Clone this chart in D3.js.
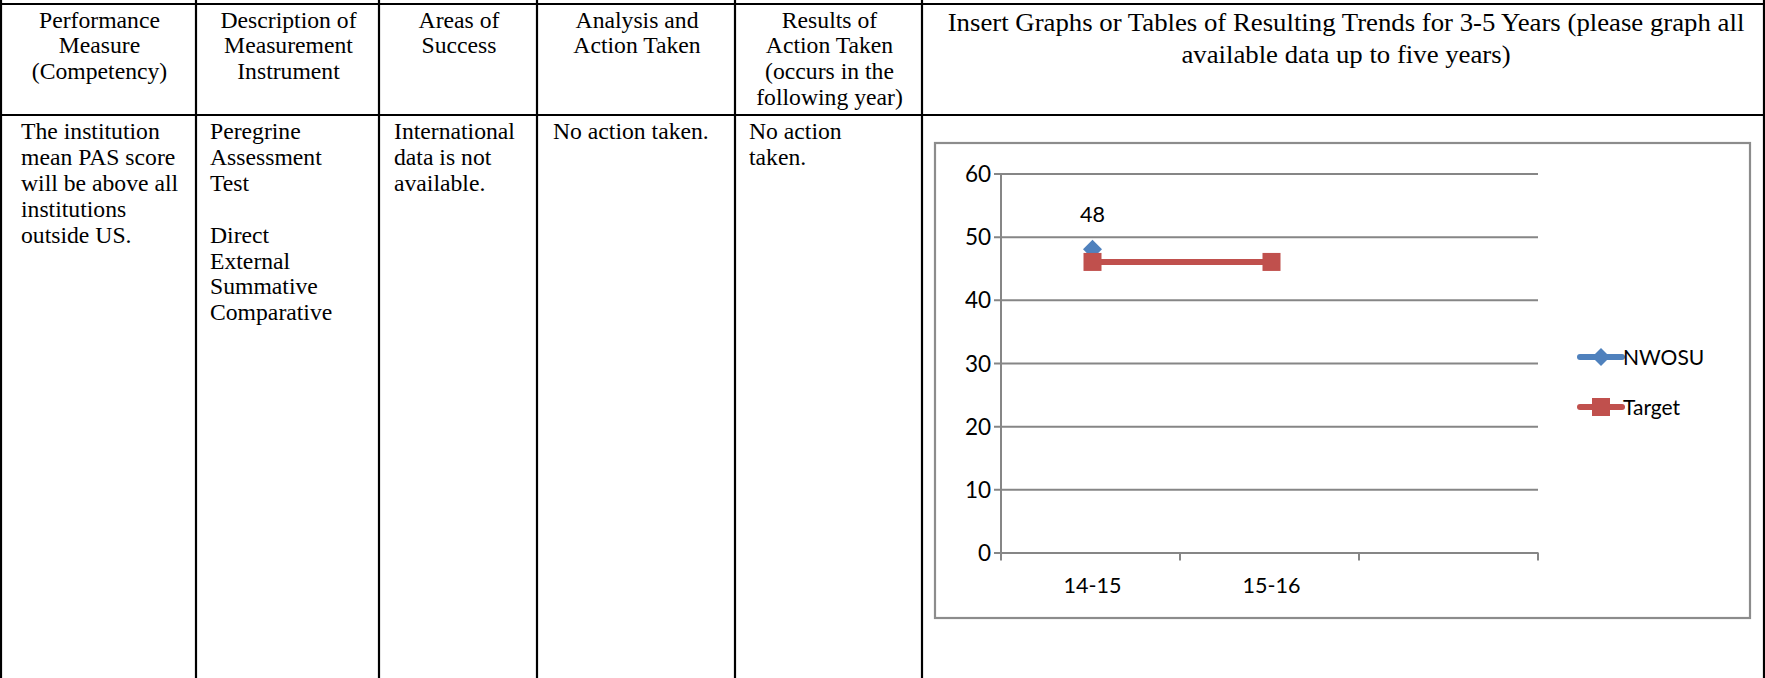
<!DOCTYPE html>
<html>
<head>
<meta charset="utf-8">
<script src="https://cdn.jsdelivr.net/npm/d3@7"></script>
<style>
  html, body { margin: 0; padding: 0; background: #fff; overflow: hidden; }
  svg { display: block; }
</style>
</head>
<body>
<svg id="page" width="1765" height="678"></svg>
<script>
// ---- Data ----
const categories = ["14-15", "15-16", ""];
const nwosuValues = [48, null, null];
const targetValues = [46, 46, null];
const yTickValues = [0, 10, 20, 30, 40, 50, 60];
const seriesNames = ["NWOSU", "Target"];

// Table content
const headerCells = [
  ["Performance", "Measure", "(Competency)"],
  ["Description of", "Measurement", "Instrument"],
  ["Areas of", "Success"],
  ["Analysis and", "Action Taken"],
  ["Results of", "Action Taken", "(occurs in the", "following year)"]
];
const graphHeader = ["Insert Graphs or Tables of Resulting Trends for 3-5 Years (please graph all", "available data up to five years)"];
const bodyCells = [
  ["The institution", "mean PAS score", "will be above all", "institutions", "outside US."],
  ["Peregrine", "Assessment", "Test", "", "Direct", "External", "Summative", "Comparative"],
  ["International", "data is not", "available."],
  ["No action taken."],
  ["No action", "taken."]
];

// ---- Layout ----
const colEdges = [1, 196, 379, 537, 735, 922, 1764];
const rowTop = 4, rowMid = 115, pageH = 678;
const serifFont = "'Liberation Serif', 'Times New Roman', serif";
const stretch = 1.03;

const svg = d3.select("#page");

// table rules
const rules = svg.append("g").attr("stroke", "#000").attr("stroke-width", 2.2);
rules.append("line").attr("x1", 0).attr("x2", 1765).attr("y1", rowTop).attr("y2", rowTop);
rules.append("line").attr("x1", 0).attr("x2", 1765).attr("y1", rowMid).attr("y2", rowMid);
colEdges.forEach(x => {
  rules.append("line").attr("x1", x).attr("x2", x).attr("y1", 0).attr("y2", pageH);
});

// text helper: slightly widened serif lines
function textLines(x, y0, lines, anchor, size, step) {
  lines.forEach((t, i) => {
    if (!t) return;
    svg.append("text")
      .attr("transform", `translate(${x},${y0 + i * step}) scale(${stretch},1)`)
      .attr("text-anchor", anchor)
      .attr("font-family", serifFont)
      .attr("font-size", size)
      .attr("fill", "#000")
      .text(t);
  });
}

headerCells.forEach((lines, i) => {
  const cx = (colEdges[i] + colEdges[i + 1]) / 2;
  textLines(cx + 1, 27.5, lines, "middle", 23, 25.9);
});
textLines((colEdges[5] + colEdges[6]) / 2 + 3, 30.5, graphHeader, "middle", 26, 32.6);

const bodyPad = [20, 14, 15, 16, 14];
bodyCells.forEach((lines, i) => {
  textLines(colEdges[i] + bodyPad[i], 139, lines, "start", 23, 25.9);
});

// ---- Chart ----
const frame = { x0: 935, y0: 143, x1: 1750, y1: 618 };
svg.append("rect")
  .attr("x", frame.x0).attr("y", frame.y0)
  .attr("width", frame.x1 - frame.x0).attr("height", frame.y1 - frame.y0)
  .attr("fill", "#fff").attr("stroke", "#8c8c8c").attr("stroke-width", 2.2);

const plot = { left: 1001, right: 1538, top: 173.5, bottom: 552.5 };
const x = d3.scaleBand().domain(categories.map((c, i) => i)).range([plot.left, plot.right]).padding(0);
const y = d3.scaleLinear().domain([0, 60]).range([plot.bottom, plot.top]);
const cx = i => x(i) + x.bandwidth() / 2 + 2;

const chartFont = "Lato, 'Open Sans', sans-serif";
const grey = "#868686";

// y axis with gridlines
const yAxis = svg.append("g")
  .attr("transform", `translate(${plot.left},0)`)
  .call(d3.axisLeft(y).tickValues(yTickValues).tickSize(plot.left - plot.right).tickPadding(0).tickSizeOuter(0));
yAxis.select(".domain").remove();
yAxis.selectAll(".tick line").attr("stroke", grey).attr("stroke-width", 2).attr("x1", -7);
yAxis.selectAll(".tick text")
  .attr("x", -10).attr("dy", "0.36em")
  .attr("font-family", chartFont).attr("font-size", 22.5).attr("fill", "#000");

// vertical axis line
svg.append("line")
  .attr("x1", plot.left).attr("x2", plot.left)
  .attr("y1", plot.top).attr("y2", plot.bottom)
  .attr("stroke", grey).attr("stroke-width", 2);

// category ticks at band boundaries
const boundaries = categories.map((c, i) => x(i)).concat([plot.right]);
svg.append("g").selectAll("line").data(boundaries).join("line")
  .attr("x1", d => d).attr("x2", d => d)
  .attr("y1", plot.bottom).attr("y2", plot.bottom + 8)
  .attr("stroke", grey).attr("stroke-width", 2);

svg.append("g").selectAll("text").data(categories).join("text")
  .attr("x", (d, i) => cx(i)).attr("y", 593)
  .attr("text-anchor", "middle")
  .attr("font-family", chartFont).attr("font-size", 21.5)
  .text(d => d);

const blue = "#4F81BD", red = "#C0504D";

// Target series
const targetPts = targetValues.map((v, i) => ({ i, v })).filter(d => d.v != null);
svg.append("path")
  .datum(targetPts)
  .attr("d", d3.line().x(d => cx(d.i)).y(d => y(d.v)))
  .attr("fill", "none").attr("stroke", red).attr("stroke-width", 6);

// NWOSU series
const nwosuPts = nwosuValues.map((v, i) => ({ i, v })).filter(d => d.v != null);
svg.append("path")
  .datum(nwosuPts)
  .attr("d", d3.line().x(d => cx(d.i)).y(d => y(d.v)))
  .attr("fill", "none").attr("stroke", blue).attr("stroke-width", 6);

const diamond = s => `M0,${-s}L${s},0L0,${s}L${-s},0Z`;
svg.append("g").selectAll("path").data(nwosuPts).join("path")
  .attr("transform", d => `translate(${cx(d.i)},${y(d.v)})`)
  .attr("d", diamond(9.5)).attr("fill", blue);

svg.append("g").selectAll("rect").data(targetPts).join("rect")
  .attr("x", d => cx(d.i) - 9).attr("y", d => y(d.v) - 9)
  .attr("width", 18).attr("height", 18).attr("fill", red);

// data label
svg.append("g").selectAll("text").data(nwosuPts).join("text")
  .attr("x", d => cx(d.i)).attr("y", d => y(d.v) - 27)
  .attr("text-anchor", "middle")
  .attr("font-family", chartFont).attr("font-size", 21.5)
  .text(d => d.v);

// legend
const legend = [
  { name: seriesNames[0], color: blue, shape: "diamond", y: 357 },
  { name: seriesNames[1], color: red, shape: "square", y: 407 }
];
const lg = svg.append("g").selectAll("g").data(legend).join("g")
  .attr("transform", d => `translate(1580,${d.y})`);
lg.append("line").attr("x1", 0).attr("x2", 42).attr("y1", 0).attr("y2", 0)
  .attr("stroke", d => d.color).attr("stroke-width", 6).attr("stroke-linecap", "round");
lg.append("path")
  .attr("d", d => d.shape === "diamond" ? diamond(9) : "M-9,-9H9V9H-9Z")
  .attr("transform", "translate(21,0)")
  .attr("fill", d => d.color);
lg.append("text").attr("x", 43).attr("dy", "0.36em")
  .attr("font-family", chartFont).attr("font-size", 21)
  .text(d => d.name);
</script>
</body>
</html>
